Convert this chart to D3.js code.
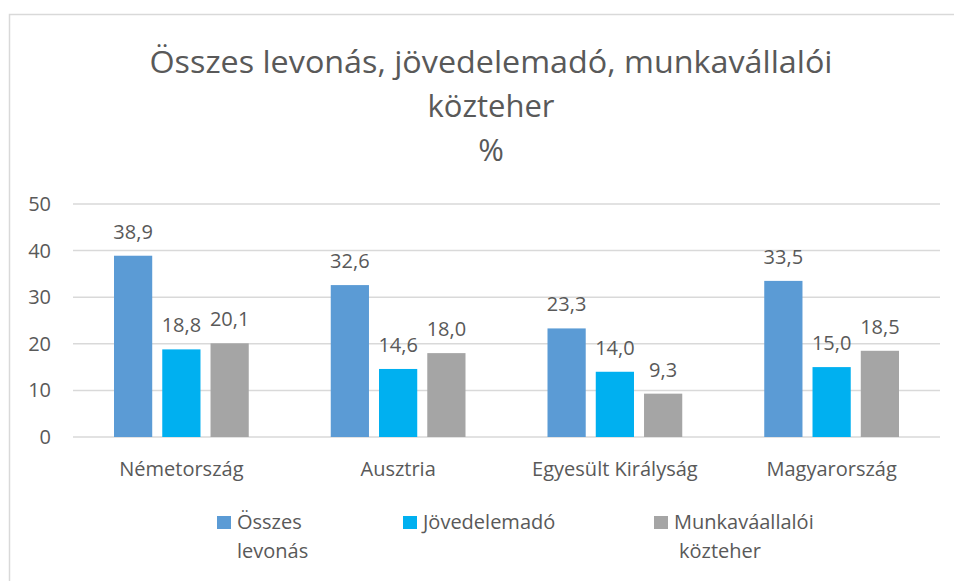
<!DOCTYPE html>
<html>
<head>
<meta charset="utf-8">
<script src="https://cdn.jsdelivr.net/npm/d3@7"></script>
<style>
  body { margin: 0; background: #fff; }
  text { font-family: "Open Sans", "Noto Sans", sans-serif; fill: #595959; }
</style>
</head>
<body>
<svg width="954" height="581"></svg>
<script>
// chart data
var categories = ["Németország", "Ausztria", "Egyesült Királyság", "Magyarország"];
var seriesNames = ["Összes levonás", "Jövedelemadó", "Munkaváallalói közteher"];
var osszesLevonas = [38.9, 32.6, 23.3, 33.5];
var jovedelemado = [18.8, 14.6, 14.0, 15.0];
var kozteher = [20.1, 18.0, 9.3, 18.5];
var yTicks = [0, 10, 20, 30, 40, 50];
var titleLines = ["Összes levonás, jövedelemadó, munkavállalói", "közteher", "%"];

var colors = ["#5b9bd5", "#00b0f0", "#a5a5a5"];
var values = [osszesLevonas, jovedelemado, kozteher];

var svg = d3.select("svg");

// chart area border
svg.append("rect")
  .attr("x", 9.5).attr("y", 14.5)
  .attr("width", 960).attr("height", 600)
  .attr("fill", "none")
  .attr("stroke", "#d9d9d9")
  .attr("stroke-width", 1.5);

// title
svg.append("g").selectAll("text")
  .data(titleLines)
  .enter().append("text")
  .attr("x", 491)
  .attr("y", function(d, i) { return 73 + i * 44; })
  .attr("text-anchor", "middle")
  .style("font-size", "31px")
  .attr("textLength", function(d, i) { return i == 0 ? 683 : null; })
  .attr("lengthAdjust", "spacingAndGlyphs")
  .text(function(d) { return d; });

var margin = { left: 73, right: 14, top: 204, bottom: 144 };
var width = 954 - margin.left - margin.right,
    height = 581 - margin.top - margin.bottom;

var x0 = d3.scaleBand().domain(categories).range([0, width]);
var x1 = d3.scaleBand().domain(d3.range(seriesNames.length))
  .range([41, x0.bandwidth() - 41])
  .paddingInner(0.208);
var y = d3.scaleLinear().domain([0, 50]).range([height, 0]);

var g = svg.append("g")
  .attr("transform", "translate(" + margin.left + "," + margin.top + ")");

// gridlines
g.append("g").selectAll("line")
  .data(yTicks)
  .enter().append("line")
  .attr("x1", 0).attr("x2", width)
  .attr("y1", function(d) { return y(d); })
  .attr("y2", function(d) { return y(d); })
  .attr("stroke", "#d9d9d9")
  .attr("stroke-width", 1.5);

// y axis labels
var yAxis = g.append("g")
  .call(d3.axisLeft(y).tickValues(yTicks).tickSize(0).tickPadding(22));
yAxis.select(".domain").remove();
yAxis.selectAll("text").style("font-size", "20px").attr("fill", "#595959");

// x axis labels
var xAxis = g.append("g")
  .attr("transform", "translate(0," + height + ")")
  .call(d3.axisBottom(x0).tickSize(0).tickPadding(25));
xAxis.select(".domain").remove();
xAxis.selectAll("text").style("font-size", "20px").attr("fill", "#595959");

// bars
var groups = g.selectAll(".cat")
  .data(categories)
  .enter().append("g")
  .attr("class", "cat")
  .attr("transform", function(d) { return "translate(" + x0(d) + ",0)"; });

groups.each(function(c, ci) {
  var grp = d3.select(this);
  var rows = values.map(function(v, si) { return { s: si, v: v[ci] }; });
  grp.selectAll("rect")
    .data(rows)
    .enter().append("rect")
    .attr("x", function(d) { return x1(d.s); })
    .attr("y", function(d) { return y(d.v); })
    .attr("width", x1.bandwidth())
    .attr("height", function(d) { return height - y(d.v); })
    .attr("fill", function(d) { return colors[d.s]; });
  grp.selectAll("text.lbl")
    .data(rows)
    .enter().append("text")
    .attr("class", "lbl")
    .attr("x", function(d) { return x1(d.s) + x1.bandwidth() / 2; })
    .attr("y", function(d) { return y(d.v) - 17; })
    .attr("text-anchor", "middle")
    .style("font-size", "20px")
    .text(function(d) { return d3.format(".1f")(d.v).replace(".", ","); });
});

// legend
var legendX = [217, 403, 654];
var legendLines = [["Összes", "levonás"], ["Jövedelemadó"], ["Munkaváallalói", "közteher"]];
var leg = svg.append("g").selectAll("g")
  .data(seriesNames)
  .enter().append("g")
  .attr("transform", function(d, i) { return "translate(" + legendX[i] + ",516)"; });
leg.append("rect")
  .attr("width", 14).attr("height", 13)
  .attr("fill", function(d, i) { return colors[i]; });
leg.each(function(d, i) {
  d3.select(this).selectAll("text")
    .data(legendLines[i])
    .enter().append("text")
    .attr("x", function(t, j) { return i == 2 && j == 1 ? 25 : 20; })
    .attr("y", function(t, j) { return 13 + j * 29; })
    .style("font-size", "20px")
    .text(function(t) { return t; });
});
</script>
</body>
</html>
